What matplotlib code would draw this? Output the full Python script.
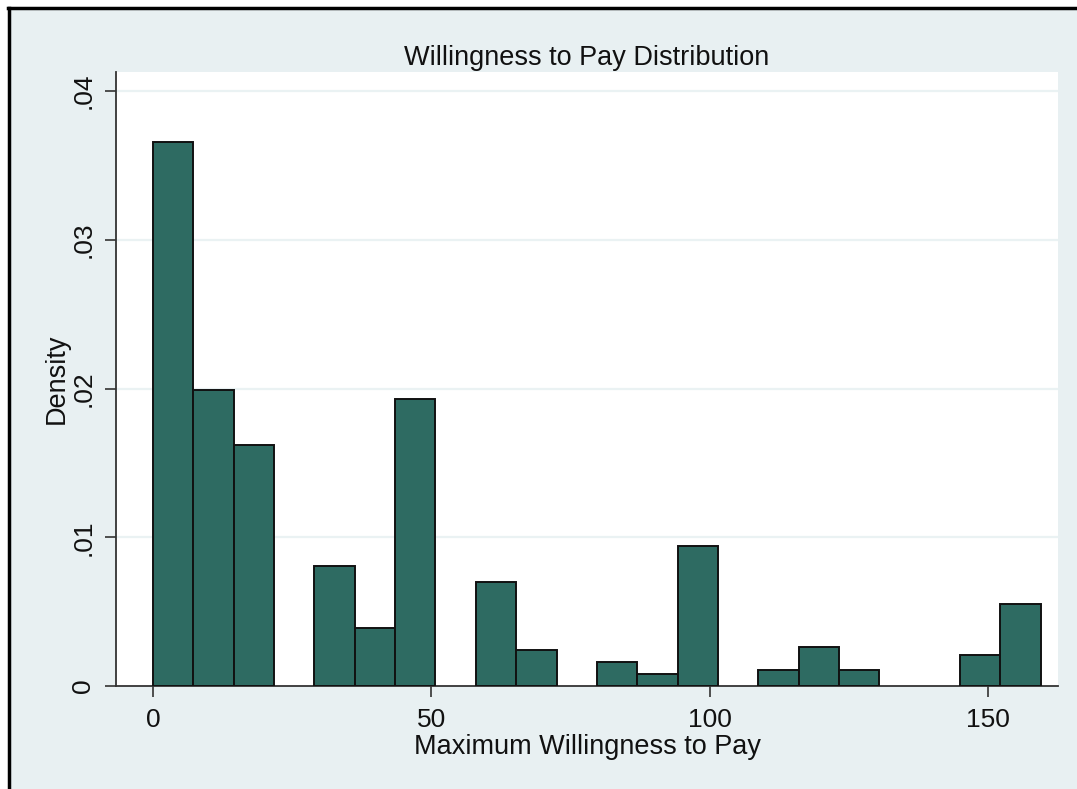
import numpy as np
import matplotlib
matplotlib.use("Agg")
import matplotlib.pyplot as plt
from matplotlib.patches import Rectangle
from matplotlib.lines import Line2D

# ---- data ----
bin_start = 0.0
bin_width = 7.25
densities = [0.0366, 0.0199, 0.0162, 0.0, 0.0081, 0.0039, 0.0193, 0.0,
             0.0070, 0.0024, 0.0, 0.0016, 0.0008, 0.0094, 0.0, 0.0011,
             0.0026, 0.0011, 0.0, 0.0, 0.0021, 0.0055]
x_ticks = [0, 50, 100, 150]
x_tick_labels = ["0", "50", "100", "150"]
y_ticks = [0, 0.01, 0.02, 0.03, 0.04]
y_tick_labels = ["0", ".01", ".02", ".03", ".04"]
title = "Willingness to Pay Distribution"
xlabel = "Maximum Willingness to Pay"
ylabel = "Density"

plt.rcParams['font.family'] = ['Liberation Sans', 'DejaVu Sans']

W, H = 1077, 789
fig = plt.figure(figsize=(W / 100, H / 100), dpi=100, facecolor="white")
bg = "#E8F0F2"

# outer background panel with black left/top border
fig.patches.append(Rectangle((9 / W, 0), 1 - 9 / W, 1 - 9 / H, transform=fig.transFigure,
                             facecolor=bg, edgecolor="none", zorder=-2))
fig.lines.append(Line2D([8.5 / W, 8.5 / W], [0, 1 - 7.5 / H], transform=fig.transFigure,
                        color="black", lw=2.5, zorder=-1))
fig.lines.append(Line2D([7.5 / W, 1], [1 - 8 / H, 1 - 8 / H], transform=fig.transFigure,
                        color="black", lw=2.5, zorder=-1))

ax = fig.add_axes([116 / W, 1 - 686 / H, (1058 - 116) / W, (686 - 72) / H])
ax.set_facecolor("white")

lefts = bin_start + bin_width * np.arange(len(densities))
d = np.array(densities)
mask = d > 0
ax.bar(lefts[mask], d[mask], width=bin_width, align="edge",
       color="#2E6B62", edgecolor="#111111", linewidth=1.4, zorder=3)

ax.set_xlim(-6.65, 162.6)
ax.set_ylim(0, 0.04128)

ax.set_xticks(x_ticks)
ax.set_xticklabels(x_tick_labels)
ax.set_yticks(y_ticks)
ax.set_yticklabels(y_tick_labels, rotation=90, va="center")

for yv in y_ticks[1:]:
    ax.axhline(yv, color="#EAF2F3", lw=1.6, zorder=1)

for s in ["top", "right"]:
    ax.spines[s].set_visible(False)
for s in ["left", "bottom"]:
    ax.spines[s].set_color("#333333")
    ax.spines[s].set_linewidth(1.3)

ax.tick_params(axis="both", length=8, width=1.2, color="#333333",
               labelsize=19, labelcolor="#111111")
ax.tick_params(axis="x", pad=8)
ax.tick_params(axis="y", pad=7)

ax.set_title(title, fontsize=19.5, color="#111111", pad=5)
ax.set_xlabel(xlabel, fontsize=19.5, color="#111111", labelpad=1)
ax.set_ylabel(ylabel, fontsize=19.5, color="#111111", labelpad=1)

fig.savefig("out.png", dpi=100, facecolor=fig.get_facecolor())
